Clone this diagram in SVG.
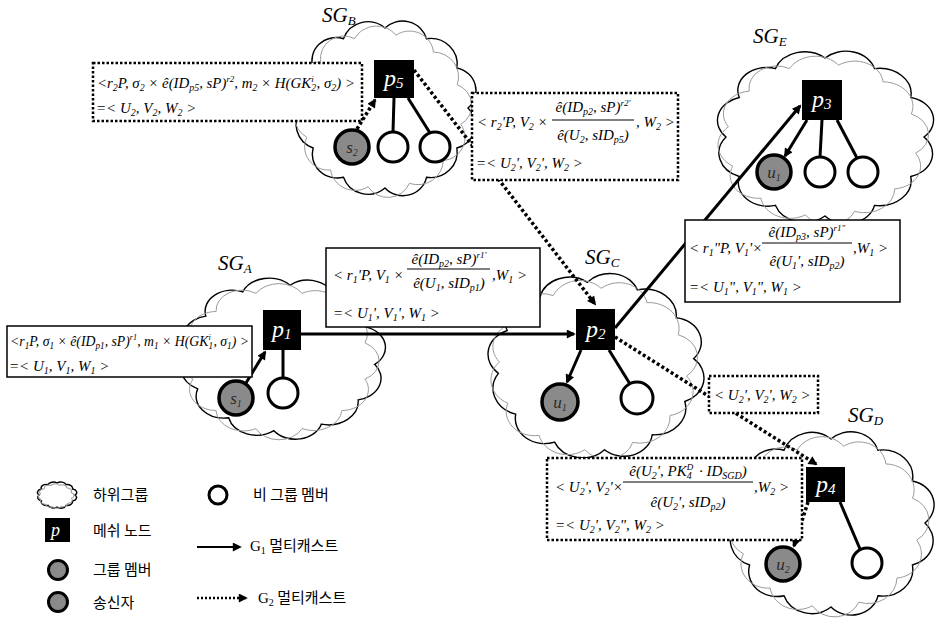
<svg xmlns="http://www.w3.org/2000/svg" xmlns:xlink="http://www.w3.org/1999/xlink" width="938" height="621" viewBox="0 0 938 621">
<style>
.cb{fill:#fff;stroke:#000;stroke-width:1.4}
.cg{fill:none;stroke:#9a9a9a;stroke-width:1}
.c{stroke:#000;stroke-width:3;fill:none}
.cd{stroke:#000;stroke-width:3.5;stroke-dasharray:3 2.5;fill:none}
.bs{fill:#fff;stroke:#000;stroke-width:1.5}
.bd{fill:#fff;stroke:#000;stroke-width:2.5;stroke-dasharray:2.5 2}
.mesh{fill:#000}
.mem{fill:#8a8a8a;stroke:#000;stroke-width:3.5}
.non{fill:#fff;stroke:#000;stroke-width:3}
.m{font-family:"Liberation Serif","Times New Roman",serif;font-style:italic;font-size:15px;fill:#000}
.b{font-size:10px;baseline-shift:-3px}
.p{font-size:9px;baseline-shift:6px}
.nl{font-family:"Liberation Serif",serif;font-style:italic;font-size:24px;fill:#fff}
.nd{font-size:15px;baseline-shift:-2px}
.ml{font-family:"Liberation Serif",serif;font-style:italic;font-size:17px;fill:#2a2a2a;text-anchor:middle}
.sg{font-family:"Liberation Serif",serif;font-style:italic;font-size:21px;fill:#000}
.sgs{font-size:13px;baseline-shift:-3px}
.k{font-family:"Noto Sans CJK KR","Noto Sans",sans-serif;font-size:15px;fill:#000}
.fl{stroke:#000;stroke-width:1}
</style>
<defs>
<path id="cl" vector-effect="non-scaling-stroke" d="M100,0 A30,30 0 0 1 86.6,50 A32,32 0 0 1 50,86.6 A29,29 0 0 1 0,100 A31,31 0 0 1 -50,86.6 A30,30 0 0 1 -86.6,50 A32,32 0 0 1 -100,0 A30,30 0 0 1 -86.6,-50 A29,29 0 0 1 -50,-86.6 A31,31 0 0 1 0,-100 A30,30 0 0 1 50,-86.6 A32,32 0 0 1 86.6,-50 A29,29 0 0 1 100,0 Z"/>
<marker id="ah" viewBox="0 0 10 10" refX="8" refY="5" markerWidth="11" markerHeight="9" markerUnits="userSpaceOnUse" orient="auto"><path d="M0,0 L10,5 L0,10 z" fill="#000"/></marker>
</defs>
<rect width="938" height="621" fill="#fff"/>

<g id="clouds">
<g id="sgB"><use xlink:href="#cl" class="cb" transform="translate(385,108) scale(.83,.8)"/><use xlink:href="#cl" class="cg" transform="translate(382,111) scale(.8,.77) rotate(10)"/></g>
<g id="sgE"><use xlink:href="#cl" class="cb" transform="translate(825,137) scale(.99,.79)"/><use xlink:href="#cl" class="cg" transform="translate(822,140) scale(.95,.76) rotate(10)"/></g>
<g id="sgA"><use xlink:href="#cl" class="cb" transform="translate(282,358) scale(.93,.73) rotate(5)"/><use xlink:href="#cl" class="cg" transform="translate(279,361) scale(.89,.7) rotate(15)"/></g>
<g id="sgC"><use xlink:href="#cl" class="cb" transform="translate(596,366) scale(.98,.84) rotate(-5)"/><use xlink:href="#cl" class="cg" transform="translate(593,369) scale(.94,.81) rotate(5)"/></g>
<g id="sgD"><use xlink:href="#cl" class="cb" transform="translate(831,523) scale(.94,.84)"/><use xlink:href="#cl" class="cg" transform="translate(828,526) scale(.9,.81) rotate(10)"/></g>
</g>

<g id="connectors">
<line class="c" x1="246" y1="383" x2="265" y2="352" marker-end="url(#ah)"/>
<line class="c" x1="301" y1="334" x2="574" y2="334" marker-end="url(#ah)"/>
<line class="c" x1="581" y1="350" x2="567" y2="382" marker-end="url(#ah)"/>
<line class="c" x1="615" y1="328" x2="800" y2="106" marker-end="url(#ah)"/>
<line class="c" x1="807" y1="120" x2="785" y2="156" marker-end="url(#ah)"/>
<line class="c" x1="283" y1="350" x2="283" y2="378"/>
<line class="c" x1="394" y1="98" x2="393" y2="132"/>
<line class="c" x1="408" y1="98" x2="430" y2="133"/>
<line class="c" x1="609" y1="350" x2="630" y2="384"/>
<line class="c" x1="822" y1="120" x2="820" y2="157"/>
<line class="c" x1="837" y1="120" x2="857" y2="158"/>
<line class="c" x1="840" y1="502" x2="860" y2="549"/>
<line class="cd" x1="357" y1="129" x2="375" y2="100" marker-end="url(#ah)"/>
<line class="cd" x1="414" y1="70" x2="595" y2="304" marker-end="url(#ah)"/>
<line class="cd" x1="615" y1="337" x2="816" y2="464" marker-end="url(#ah)"/>
<line class="cd" x1="808" y1="502" x2="794" y2="546" marker-end="url(#ah)"/>
</g>

<g id="p5"><rect class="mesh" x="374" y="60" width="40" height="38"/><text class="nl" x="384" y="86">p<tspan class="nd">5</tspan></text></g>
<g id="p1"><rect class="mesh" x="263" y="310" width="38" height="40"/><text class="nl" x="272" y="337">p<tspan class="nd">1</tspan></text></g>
<g id="p2"><rect class="mesh" x="576" y="309" width="39" height="41"/><text class="nl" x="586" y="337">p<tspan class="nd">2</tspan></text></g>
<g id="p3"><rect class="mesh" x="802" y="80" width="40" height="40"/><text class="nl" x="812" y="107">p<tspan class="nd">3</tspan></text></g>
<g id="p4"><rect class="mesh" x="806" y="467" width="39" height="35"/><text class="nl" x="816" y="492">p<tspan class="nd">4</tspan></text></g>

<g id="s2"><circle class="mem" cx="352" cy="147" r="17"/><text class="ml" x="352" y="153">s<tspan class="b">2</tspan></text></g>
<g id="s1"><circle class="mem" cx="236" cy="398" r="17"/><text class="ml" x="236" y="404">s<tspan class="b">1</tspan></text></g>
<g id="u1c"><circle class="mem" cx="560" cy="402" r="18"/><text class="ml" x="560" y="408">u<tspan class="b">1</tspan></text></g>
<g id="u1e"><circle class="mem" cx="774" cy="172" r="17"/><text class="ml" x="774" y="178">u<tspan class="b">1</tspan></text></g>
<g id="u2d"><circle class="mem" cx="783" cy="564" r="17"/><text class="ml" x="783" y="570">u<tspan class="b">2</tspan></text></g>

<g id="nB1"><circle class="non" cx="393" cy="147" r="15"/></g>
<g id="nB2"><circle class="non" cx="435" cy="147" r="15"/></g>
<g id="nA"><circle class="non" cx="283" cy="393" r="15"/></g>
<g id="nC"><circle class="non" cx="637" cy="398" r="16"/></g>
<g id="nE1"><circle class="non" cx="820" cy="172" r="15"/></g>
<g id="nE2"><circle class="non" cx="863" cy="172" r="15"/></g>
<g id="nD"><circle class="non" cx="867" cy="563" r="15"/></g>

<g id="boxB1"><rect class="bd" x="93" y="63" width="269" height="58"/>
<text class="m" x="97" y="88" textLength="258" lengthAdjust="spacingAndGlyphs">&lt;r<tspan class="b">2</tspan>P, σ<tspan class="b">2</tspan> × ê(ID<tspan class="b">p5</tspan>, sP)<tspan class="p">r2</tspan>, m<tspan class="b">2</tspan> × H(GK<tspan class="b">2</tspan><tspan class="p" dx="-5">i</tspan><tspan dx="3">, σ</tspan><tspan class="b">2</tspan>) &gt;</text>
<text class="m" x="96" y="113">=&lt; U<tspan class="b">2</tspan>, V<tspan class="b">2</tspan>, W<tspan class="b">2</tspan> &gt;</text></g>

<g id="boxB2"><rect class="bd" x="472" y="93" width="206" height="87"/>
<text class="m" x="477" y="127">&lt; r<tspan class="b">2</tspan>'P, V<tspan class="b">2</tspan> ×</text>
<text class="m" x="593" y="112" text-anchor="middle">ê(ID<tspan class="b">p2</tspan>, sP)<tspan class="p">r2'</tspan></text>
<line class="fl" x1="552" y1="120" x2="634" y2="120"/>
<text class="m" x="593" y="140" text-anchor="middle">ê(U<tspan class="b">2</tspan>, sID<tspan class="b">p5</tspan>)</text>
<text class="m" x="636" y="127">, W<tspan class="b">2</tspan> &gt;</text>
<text class="m" x="476" y="168">=&lt; U<tspan class="b">2</tspan>', V<tspan class="b">2</tspan>', W<tspan class="b">2</tspan> &gt;</text></g>

<g id="boxA"><rect class="bs" x="326" y="248" width="214" height="79"/>
<text class="m" x="333" y="280">&lt; r<tspan class="b">1</tspan>'P, V<tspan class="b">1</tspan> ×</text>
<text class="m" x="449" y="264" text-anchor="middle">ê(ID<tspan class="b">p2</tspan>, sP)<tspan class="p">r1'</tspan></text>
<line class="fl" x1="407" y1="269" x2="490" y2="269"/>
<text class="m" x="449" y="288" text-anchor="middle">ê(U<tspan class="b">1</tspan>, sID<tspan class="b">p1</tspan>)</text>
<text class="m" x="492" y="280">,W<tspan class="b">1</tspan> &gt;</text>
<text class="m" x="333" y="318">=&lt; U<tspan class="b">1</tspan>', V<tspan class="b">1</tspan>', W<tspan class="b">1</tspan> &gt;</text></g>

<g id="boxL"><rect class="bs" x="7" y="326" width="245" height="51"/>
<text class="m" x="10" y="346" textLength="239" lengthAdjust="spacingAndGlyphs">&lt;r<tspan class="b">1</tspan>P, σ<tspan class="b">1</tspan> × ê(ID<tspan class="b">p1</tspan>, sP)<tspan class="p">r1</tspan>, m<tspan class="b">1</tspan> × H(GK<tspan class="b">1</tspan><tspan class="p" dx="-5">i</tspan><tspan dx="3">, σ</tspan><tspan class="b">1</tspan>) &gt;</text>
<text class="m" x="9" y="371">=&lt; U<tspan class="b">1</tspan>, V<tspan class="b">1</tspan>, W<tspan class="b">1</tspan> &gt;</text></g>

<g id="boxE"><rect class="bs" x="685" y="220" width="215" height="82"/>
<text class="m" x="689" y="253">&lt; r<tspan class="b">1</tspan>"P, V<tspan class="b">1</tspan>'×</text>
<text class="m" x="807" y="237" text-anchor="middle">ê(ID<tspan class="b">p3</tspan>, sP)<tspan class="p">r1"</tspan></text>
<line class="fl" x1="762" y1="243" x2="852" y2="243"/>
<text class="m" x="807" y="266" text-anchor="middle">ê(U<tspan class="b">1</tspan>', sID<tspan class="b">p2</tspan>)</text>
<text class="m" x="853" y="253">,W<tspan class="b">1</tspan> &gt;</text>
<text class="m" x="689" y="292">=&lt; U<tspan class="b">1</tspan>", V<tspan class="b">1</tspan>", W<tspan class="b">1</tspan> &gt;</text></g>

<g id="boxS"><rect class="bd" x="709" y="376" width="109" height="37"/>
<text class="m" x="714" y="400">&lt; U<tspan class="b">2</tspan>', V<tspan class="b">2</tspan>', W<tspan class="b">2</tspan> &gt;</text></g>

<g id="boxD"><rect class="bd" x="547" y="458" width="255" height="82"/>
<text class="m" x="555" y="492">&lt; U<tspan class="b">2</tspan>', V<tspan class="b">2</tspan>'×</text>
<text class="m" x="688" y="476" text-anchor="middle">ê(U<tspan class="b">2</tspan>', PK<tspan class="b">4</tspan><tspan class="p" dx="-5">D</tspan><tspan dx="2"> · ID</tspan><tspan class="b">SGD</tspan>)</text>
<line class="fl" x1="623" y1="482" x2="753" y2="482"/>
<text class="m" x="688" y="507" text-anchor="middle">ê(U<tspan class="b">2</tspan>', sID<tspan class="b">p2</tspan>)</text>
<text class="m" x="754" y="492">,W<tspan class="b">2</tspan> &gt;</text>
<text class="m" x="555" y="530">=&lt; U<tspan class="b">2</tspan>', V<tspan class="b">2</tspan>", W<tspan class="b">2</tspan> &gt;</text></g>

<g id="labels">
<text class="sg" x="322" y="22">SG<tspan class="sgs">B</tspan></text>
<text class="sg" x="753" y="43">SG<tspan class="sgs">E</tspan></text>
<text class="sg" x="218" y="270">SG<tspan class="sgs">A</tspan></text>
<text class="sg" x="585" y="264">SG<tspan class="sgs">C</tspan></text>
<text class="sg" x="848" y="422">SG<tspan class="sgs">D</tspan></text>
</g>

<g id="legend">
<g id="lgCloud"><use xlink:href="#cl" class="cb" transform="translate(57,495) scale(.18,.12)"/><use xlink:href="#cl" class="cg" transform="translate(56,496) scale(.16,.11) rotate(12)"/><text class="k" x="93" y="500">하위그룹</text></g>
<g id="lgMesh"><rect class="mesh" x="45" y="518" width="25" height="24"/><text class="nl" x="51" y="536" style="font-size:18px">p</text><text class="k" x="93" y="536">메쉬 노드</text></g>
<g id="lgMem"><circle class="mem" cx="58" cy="570" r="9.5" style="stroke-width:3"/><text class="k" x="93" y="575">그룹 멤버</text></g>
<g id="lgSnd"><circle class="mem" cx="58" cy="602" r="9.5" style="stroke-width:3"/><text class="k" x="93" y="608">송신자</text></g>
<g id="lgNon"><circle class="non" cx="218" cy="495" r="9"/><text class="k" x="253" y="500">비 그룹 멤버</text></g>
<g id="lgG1"><line x1="197" y1="547" x2="240" y2="547" stroke="#000" stroke-width="2" marker-end="url(#ah)"/><text class="k" x="250" y="551"><tspan style="font-family:'Liberation Serif',serif">G</tspan><tspan class="b" style="font-family:'Liberation Serif',serif">1</tspan> 멀티캐스트</text></g>
<g id="lgG2"><line x1="197" y1="598" x2="246" y2="598" stroke="#000" stroke-width="2.5" stroke-dasharray="2 2" marker-end="url(#ah)"/><text class="k" x="258" y="603"><tspan style="font-family:'Liberation Serif',serif">G</tspan><tspan class="b" style="font-family:'Liberation Serif',serif">2</tspan> 멀티캐스트</text></g>
</g>
</svg>
